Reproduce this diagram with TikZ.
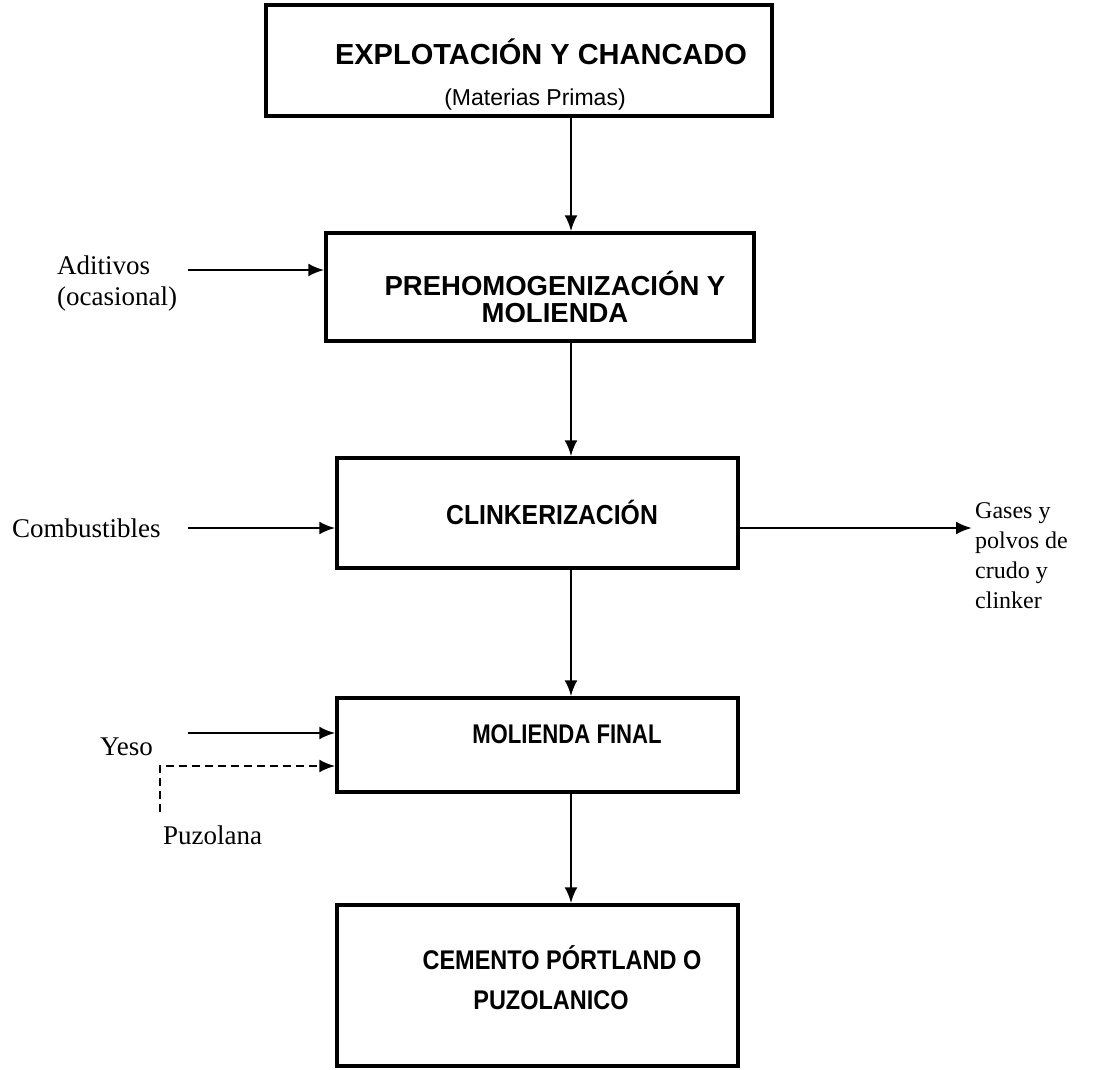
\documentclass[tikz,border=0pt]{standalone}
\usepackage{fontspec}
\setmainfont{Liberation Serif}
\newfontfamily\boxfont{Liberation Sans}
\usetikzlibrary{arrows.meta,calc}
\newcommand{\bxf}[1]{\boxfont\bfseries\fontsize{#1}{42}\selectfont}
\begin{document}
\begin{tikzpicture}[x=1pt,y=-1pt,
  procbox/.style={draw,line width=3.4pt,inner sep=0pt},
  btxt/.style={inner sep=0pt,align=center},
  arr/.style={line width=2.6pt,-{Latex[length=16pt,width=13pt]}},
  lbl/.style={anchor=west,inner sep=0pt,align=left,font=\fontsize{27}{31}\selectfont},
  rlbl/.style={anchor=north west,inner sep=0pt,align=left,font=\fontsize{24}{30}\selectfont}]
\useasboundingbox (0,0) rectangle (1120,1070);
% boxes
\node[procbox,minimum width=506pt,minimum height=111pt] (b1) at (519,60.5) {};
\node[btxt,font=\bxf{29}] (t1) at (541,52) {EXPLOTACIÓN Y CHANCADO};
\node[btxt,font=\boxfont\fontsize{23}{28}\selectfont] (t1b) at (535,100) {(Materias Primas)};
\node[procbox,minimum width=428pt,minimum height=108pt] (b2) at (540,287) {};
\node[btxt,font=\bxf{27.5}] (t2a) at (555,283) {PREHOMOGENIZACIÓN Y};
\node[btxt,font=\bxf{27.5}] (t2b) at (555,313) {MOLIENDA};
\node[procbox,minimum width=401pt,minimum height=110pt] (b3) at (537.5,513) {};
\node[btxt,font=\bxf{27.5}] (t3) at (552,512) {\scalebox{0.9}[1]{CLINKERIZACIÓN}};
\node[procbox,minimum width=401pt,minimum height=94pt] (b4) at (537.5,745) {};
\node[btxt,font=\bxf{27}] (t4) at (567,734) {\scalebox{0.82}[1]{MOLIENDA FINAL}};
\node[procbox,minimum width=401pt,minimum height=161pt] (b5) at (537.5,985.5) {};
\node[btxt,font=\bxf{27}] (t5a) at (562,958) {\scalebox{0.87}[1]{CEMENTO PÓRTLAND O}};
\node[btxt,font=\bxf{27}] (t5b) at (551,1000) {\scalebox{0.87}[1]{PUZOLANICO}};
% column
\coordinate (colx) at (571,0);
\draw[arr] (colx |- b1.south) -- (colx |- b2.north);
\draw[arr] (colx |- b2.south) -- (colx |- b3.north);
\draw[arr] (colx |- b3.south) -- (colx |- b4.north);
\draw[arr] (colx |- b4.south) -- (colx |- b5.north);
% inputs
\node[lbl] (adit) at (57,284) {Aditivos\\(ocasional)};
\coordinate (aditS) at (188,270);
\draw[arr] (aditS) -- (aditS -| b2.west);
\node[lbl] (comb) at (12,528) {Combustibles};
\coordinate (combS) at (188,528);
\draw[arr] (combS) -- (combS -| b3.west);
\node[lbl] (yeso) at (100,747) {Yeso};
\coordinate (yesoS) at (188,733);
\draw[arr] (yesoS) -- (yesoS -| b4.west);
\node[lbl] (puz) at (163,835) {Puzolana};
\coordinate (puzS) at (160,812);
\coordinate (puzC) at (160,766);
\draw[arr,dash pattern=on 8pt off 5pt] (puzS) -- (puzC) -- (puzC -| b4.west);
% output
\node[rlbl] (gases) at (975,502) {Gases y\\polvos de\\crudo y\\clinker};
\coordinate (gasE) at (972,528);
\draw[arr] (b3.east |- gasE) -- (gasE);
\end{tikzpicture}
\end{document}
